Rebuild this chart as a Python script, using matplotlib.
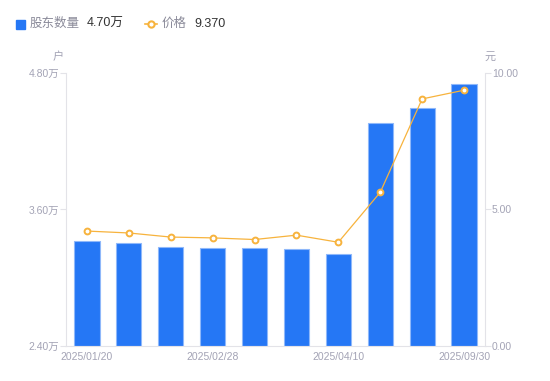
import matplotlib.pyplot as plt
from matplotlib.lines import Line2D

plt.rcParams['font.family'] = ['Liberation Sans', 'Noto Sans CJK SC', 'DejaVu Sans']

dates = ['2025/01/20', '', '', '2025/02/28', '', '', '2025/04/10', '', '', '2025/09/30']
holders = [3.32, 3.305, 3.27, 3.265, 3.26, 3.25, 3.21, 4.36, 4.495, 4.70]  # 万户
price = [4.21, 4.14, 3.99, 3.96, 3.90, 4.06, 3.80, 5.63, 9.05, 9.37]
left_ticks = [2.40, 3.60, 4.80]
right_ticks = [0, 5, 10]

blue = '#2577f5'
orange = '#f7b33d'
grey = '#a3a3b5'
axis_c = '#e3e3e8'

fig = plt.figure(figsize=(5.5, 3.81), dpi=100)
ax = fig.add_axes([0.12, 0.0919, 0.7618, 0.7165])
x = range(len(holders))
ax.bar(x, [h - 2.4 for h in holders], bottom=2.4, width=0.6, color=blue,
       edgecolor='#8fb8fa', linewidth=0.8, zorder=2)
ax.set_xlim(-0.5, len(holders) - 0.5)
ax.set_ylim(2.4, 4.8)
ax.set_yticks(left_ticks)
ax.set_yticklabels([f'{t:.2f}万' for t in left_ticks])
ax.set_xticks(list(x))
ax.set_xticklabels(dates)
ax.tick_params(axis='x', length=0, colors=grey, labelsize=7.5, pad=4)
ax.tick_params(axis='y', length=4, color=axis_c, labelcolor=grey, labelsize=7.5, pad=1)
for s in ['top', 'right']:
    ax.spines[s].set_visible(False)
ax.spines['left'].set_color(axis_c)
ax.spines['bottom'].set_color(axis_c)

ax2 = ax.twinx()
ax2.plot(x, price, color=orange, linewidth=0.9, marker='o', markersize=4.2,
         markerfacecolor='white', markeredgecolor=orange, markeredgewidth=1.4, zorder=3)
ax2.set_ylim(0, 10)
ax2.set_yticks(right_ticks)
ax2.set_yticklabels([f'{t:.2f}' for t in right_ticks])
ax2.tick_params(axis='y', length=4, color=axis_c, labelcolor=grey, labelsize=7.5, pad=1)
for s in ['top', 'left', 'bottom']:
    ax2.spines[s].set_visible(False)
ax2.spines['right'].set_color(axis_c)

fig.text(58 / 550, 1 - 57 / 381, '户', color=grey, fontsize=8, ha='center', va='center')
fig.text(490 / 550, 1 - 57 / 381, '元', color=grey, fontsize=8, ha='center', va='center')

# legend row
fig.patches.append(plt.Rectangle((16 / 550, 1 - 29 / 381), 9 / 550, 9 / 381,
                                 transform=fig.transFigure, color=blue, figure=fig))
fig.text(30 / 550, 1 - 24 / 381, '股东数量', color='#8a8a99', fontsize=9, va='center')
fig.text(87 / 550, 1 - 24 / 381, f'{holders[-1]:.2f}万', color='#333333', fontsize=9, va='center')
fig.lines.append(Line2D([145 / 550, 157 / 550], [1 - 24 / 381] * 2, transform=fig.transFigure,
                        color=orange, linewidth=1.2))
fig.lines.append(Line2D([151 / 550], [1 - 24 / 381], transform=fig.transFigure, color=orange,
                        marker='o', markersize=4.5, markerfacecolor='white', markeredgewidth=1.5))
fig.text(162 / 550, 1 - 24 / 381, '价格', color='#8a8a99', fontsize=9, va='center')
fig.text(194 / 550, 1 - 24 / 381, f'{price[-1]:.3f}', color='#333333', fontsize=9, va='center')

fig.savefig('out.png', dpi=100)
